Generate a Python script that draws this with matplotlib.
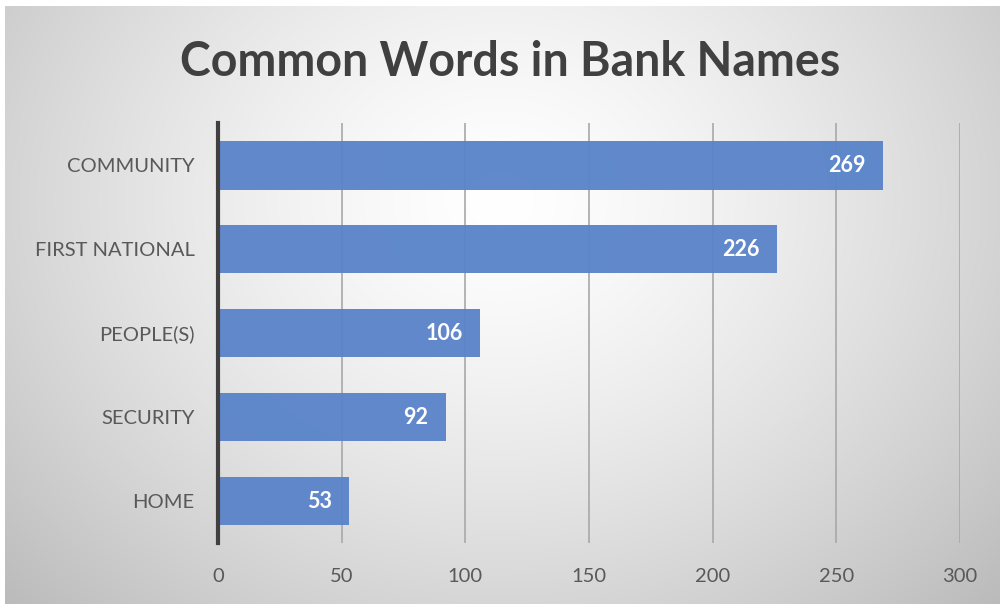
import numpy as np
import matplotlib.pyplot as plt

words = ["COMMUNITY", "FIRST NATIONAL", "PEOPLE(S)", "SECURITY", "HOME"]
counts = [269, 226, 106, 92, 53]
xticks = [0, 50, 100, 150, 200, 250, 300]

plt.rcParams['font.family'] = ['Lato', 'DejaVu Sans']

fig = plt.figure(figsize=(10, 6.04), dpi=100)

# radial grey background
bg = fig.add_axes([0, 0, 1, 1], zorder=-10)
yy, xx = np.mgrid[0:604, 0:1000]
r = np.sqrt(((xx - 500) / 620.0) ** 2 + ((yy - 200) / 520.0) ** 2)
shade = 1.0 - 0.23 * np.clip(r, 0, 1.2) ** 1.4
img = np.dstack([shade, shade, shade])
img[:6, :, :] = 1.0
img[:, :5, :] = 1.0
bg.imshow(img, aspect='auto', extent=[0, 1, 0, 1], origin='upper')
bg.set_xlim(0, 1)
bg.set_ylim(0, 1)
bg.axis('off')

ax = fig.add_axes([0.218, 0.101, 0.742, 0.695])
ax.patch.set_alpha(0)
ypos = np.arange(len(words))
ax.barh(ypos, counts, height=0.58, color='#5A84CA', alpha=0.96, zorder=3)
ax.set_ylim(len(words) - 0.5, -0.5)
ax.set_xlim(0, 300)

for y, v in zip(ypos, counts):
    ax.text(v - 7, y, str(v), ha='right', va='center', color='white',
            fontsize=15.5, fontweight='bold', zorder=4)

ax.set_xticks(xticks)
ax.set_yticks(ypos)
ax.set_yticklabels(words)
ax.tick_params(axis='both', length=0, labelsize=14.5, labelcolor='#595959')
ax.tick_params(axis='x', pad=18)
ax.tick_params(axis='y', pad=17)
ax.grid(axis='x', color='#a8a8a8', linewidth=1.2, zorder=1)
ax.set_axisbelow(True)
for s in ['top', 'right', 'bottom']:
    ax.spines[s].set_visible(False)
ax.spines['left'].set_color('#404040')
ax.spines['left'].set_linewidth(3)
ax.spines['left'].set_zorder(5)

fig.text(0.51, 0.897, "Common Words in Bank Names", ha='center', va='center',
         fontsize=33.5, fontweight='bold', color='#404040')

fig.savefig("out.png", dpi=100)
